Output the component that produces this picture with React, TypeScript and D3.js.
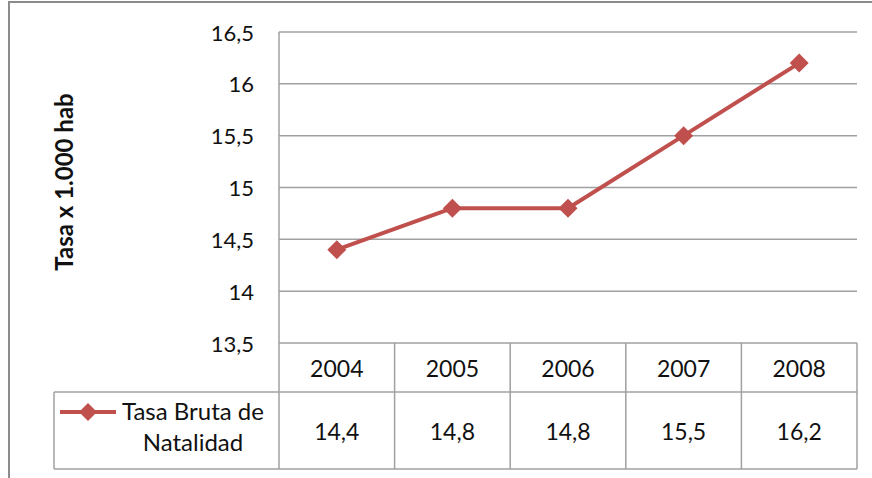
import React from "react";
import * as d3 from "d3";

const years = ["2004", "2005", "2006", "2007", "2008"];
const values = [14.4, 14.8, 14.8, 15.5, 16.2];
const valueLabels = ["14,4", "14,8", "14,8", "15,5", "16,2"];
const yTicks = [13.5, 14, 14.5, 15, 15.5, 16, 16.5];
const seriesName = ["Tasa Bruta de", "Natalidad"];
const axisTitle = "Tasa x 1.000 hab";

const W = 872;
const H = 478;
const plotLeft = 279;
const plotRight = 857;
const plotTop = 32;
const plotBottom = 343;
const headerBottom = 392;
const tableBottom = 469;
const legendLeft = 54;

const RED = "#C0504D";
const GRID = "#A0A0A0";
const FONT = "Lato, 'Open Sans', sans-serif";

export default function App() {
  const x = d3.scaleBand<string>().domain(years).range([plotLeft, plotRight]);
  const y = d3.scaleLinear().domain([13.5, 16.5]).range([plotBottom, plotTop]);
  const fmt = (v: number) => d3.format(".1~f")(v).replace(".", ",");
  const cx = (yr: string) => (x(yr) as number) + x.bandwidth() / 2;

  const line = d3
    .line<number>()
    .x((_, i) => cx(years[i]))
    .y((d) => y(d));

  const diamond = (px: number, py: number, r: number) =>
    `M${px},${py - r}L${px + r},${py}L${px},${py + r}L${px - r},${py}Z`;

  return (
    <div style={{ position: "fixed", left: 0, top: 0 }}>
      <svg width={W} height={H} style={{ display: "block", background: "#fff" }}>
        {/* outer chart border (cropped) */}
        <path d={`M9,${H}V2H${W}`} fill="none" stroke="#8C8C8C" strokeWidth={2} />

        {/* gridlines */}
        {yTicks
          .filter((t) => t > 13.5)
          .map((t) => (
            <line key={t} x1={plotLeft} x2={plotRight} y1={y(t)} y2={y(t)} stroke={GRID} strokeWidth={1.5} />
          ))}

        {/* y tick labels */}
        {yTicks.map((t) => (
          <text
            key={"l" + t}
            x={254}
            y={y(t)}
            textAnchor="end"
            dominantBaseline="central"
            fontFamily={FONT}
            fontSize={22}
            fill="#111"
          >
            {fmt(t)}
          </text>
        ))}

        {/* axis title */}
        <text
          transform={`translate(63,182) rotate(-90)`}
          textAnchor="middle"
          dominantBaseline="central"
          fontFamily={FONT}
          fontWeight="bold"
          fontSize={24}
          fill="#111"
        >
          {axisTitle}
        </text>

        {/* data table */}
        <g stroke={GRID} strokeWidth={1.5} fill="none">
          <line x1={plotLeft} x2={plotLeft} y1={plotTop} y2={tableBottom} />
          <line x1={plotLeft} x2={plotRight} y1={plotBottom} y2={plotBottom} />
          <line x1={legendLeft} x2={plotRight} y1={headerBottom} y2={headerBottom} />
          <line x1={legendLeft} x2={plotRight} y1={tableBottom} y2={tableBottom} />
          <line x1={legendLeft} x2={legendLeft} y1={headerBottom} y2={tableBottom} />
          {years.map((yr) => (
            <line
              key={"c" + yr}
              x1={(x(yr) as number) + x.bandwidth()}
              x2={(x(yr) as number) + x.bandwidth()}
              y1={plotBottom}
              y2={tableBottom}
            />
          ))}
        </g>

        {years.map((yr, i) => (
          <g key={"t" + yr} fontFamily={FONT} fontSize={23} fill="#111" textAnchor="middle">
            <text x={cx(yr)} y={(plotBottom + headerBottom) / 2} dominantBaseline="central">
              {yr}
            </text>
            <text x={cx(yr)} y={(headerBottom + tableBottom) / 2} dominantBaseline="central">
              {valueLabels[i]}
            </text>
          </g>
        ))}

        {/* legend key */}
        <line x1={60} x2={116} y1={412} y2={412} stroke={RED} strokeWidth={4} />
        <path d={diamond(88, 412, 9)} fill={RED} />
        <text x={193} y={420} textAnchor="middle" fontFamily={FONT} fontSize={24} fill="#111">
          {seriesName[0]}
        </text>
        <text x={193} y={451} textAnchor="middle" fontFamily={FONT} fontSize={24} fill="#111">
          {seriesName[1]}
        </text>

        {/* series */}
        <path d={line(values) as string} fill="none" stroke={RED} strokeWidth={4} strokeLinejoin="round" />
        {values.map((v, i) => (
          <path key={"m" + i} d={diamond(cx(years[i]), y(v), 9.5)} fill={RED} />
        ))}
      </svg>
    </div>
  );
}
